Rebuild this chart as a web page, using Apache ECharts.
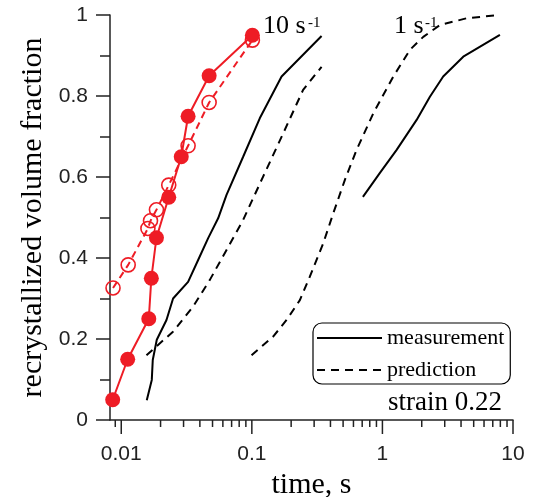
<!DOCTYPE html>
<html>
<head>
<meta charset="utf-8">
<script src="https://cdn.jsdelivr.net/npm/echarts@6/dist/echarts.min.js"></script>
<style>html,body{margin:0;padding:0;background:#fff}#c{width:534px;height:497px}</style>
</head>
<body>
<div id="c"></div>
<script>
// ---- data (time in s, recrystallized volume fraction) ----
const red10MeasT = [0.0086, 0.0112, 0.01625, 0.0170, 0.0186, 0.0231, 0.0288, 0.0325, 0.0471, 0.101];
const red10MeasY = [0.05, 0.15, 0.25, 0.35, 0.45, 0.55, 0.65, 0.75, 0.85, 0.95];
const red10PredT = [0.00865, 0.0113, 0.0160, 0.01675, 0.0186, 0.0231, 0.0325, 0.0471, 0.101];
const red10PredY = [0.326, 0.383, 0.473, 0.492, 0.519, 0.580, 0.677, 0.784, 0.938];
const meas10T = [0.01568, 0.01713, 0.01743, 0.01871, 0.0222, 0.02494, 0.0325, 0.0388, 0.0463, 0.0552, 0.0640, 0.0858, 0.115, 0.169, 0.342];
const meas10Y = [0.049, 0.099, 0.148, 0.198, 0.247, 0.300, 0.341, 0.395, 0.449, 0.498, 0.556, 0.650, 0.745, 0.848, 0.948];
const pred10T = [0.0156, 0.0249, 0.0355, 0.0477, 0.0640, 0.0858, 0.122, 0.174, 0.247, 0.342];
const pred10Y = [0.160, 0.218, 0.280, 0.346, 0.420, 0.494, 0.601, 0.708, 0.815, 0.872];
const pred1T = [0.0995, 0.1456, 0.1845, 0.2333, 0.278, 0.352, 0.420, 0.516, 0.634, 0.851, 1.211, 1.625, 2.055, 2.75, 4.41, 7.94];
const pred1Y = [0.160, 0.206, 0.247, 0.296, 0.354, 0.436, 0.510, 0.593, 0.667, 0.757, 0.848, 0.914, 0.946, 0.975, 0.992, 1.0];
const meas1T = [0.709, 0.957, 1.285, 1.828, 2.31, 2.92, 4.16, 7.94];
const meas1Y = [0.551, 0.610, 0.667, 0.741, 0.798, 0.848, 0.897, 0.951];
const xMajorTicks = [0.01, 0.1, 1, 10];
const xMinorTicks = [0.009, 0.02, 0.03, 0.04, 0.05, 0.06, 0.07, 0.08, 0.09,
  0.2, 0.3, 0.4, 0.5, 0.6, 0.7, 0.8, 0.9, 2, 3, 4, 5, 6, 7, 8, 9];
const xMin = 0.0082, xMax = 10;

const zip = (a, b) => a.map((v, i) => [v, b[i]]);
const RED = '#ee1c25';
const AX = '#222';
const SERIF = 'Liberation Serif';
const SANS = 'Liberation Sans';

function tickSeries(vals, len) {
  return {
    type: 'custom', silent: true, clip: false, z: 1,
    data: vals.map(v => [v, 0]),
    renderItem: function (params, api) {
      const p = api.coord([api.value(0), 0]);
      return {
        type: 'line',
        shape: { x1: p[0], y1: p[1], x2: p[0], y2: p[1] + len },
        style: { stroke: AX, lineWidth: 1.5 }
      };
    }
  };
}

const chart = echarts.init(document.getElementById('c'), null, { renderer: 'canvas' });
chart.setOption({
  animation: false,
  backgroundColor: '#fff',
  grid: { left: 110, right: 21, top: 15, bottom: 77, containLabel: false, outerBoundsMode: 'none' },
  xAxis: {
    type: 'log', min: xMin, max: xMax, logBase: 10,
    name: 'time, s', nameLocation: 'middle', nameGap: 47,
    nameTextStyle: { fontFamily: SERIF, fontSize: 30, color: '#000' },
    axisLine: { onZero: false, lineStyle: { color: AX, width: 1.5 } },
    axisTick: { show: false },
    splitLine: { show: false },
    axisLabel: {
      margin: 24, fontFamily: SANS, fontSize: 21, color: '#222',
      formatter: function (v) {
        const l = Math.log10(v);
        if (Math.abs(l - Math.round(l)) > 1e-6) return '';
        return String(+v.toPrecision(6));
      }
    }
  },
  yAxis: {
    type: 'value', min: 0, max: 1, interval: 0.2,
    name: 'recrystallized volume fraction', nameLocation: 'middle', nameGap: 56,
    nameTextStyle: { fontFamily: SERIF, fontSize: 30, color: '#000' },
    axisLine: { show: true, onZero: false, lineStyle: { color: AX, width: 1.5 } },
    axisTick: { show: true, length: 14, lineStyle: { color: AX, width: 1.5 } },
    minorTick: { show: true, splitNumber: 2, length: 10, lineStyle: { color: AX, width: 1.5 } },
    splitLine: { show: false },
    axisLabel: { margin: 22, fontFamily: SANS, fontSize: 21, color: '#222' }
  },
  legend: {
    data: ['measurement', 'prediction'],
    orient: 'vertical', left: 313, top: 323,
    selectedMode: false,
    itemWidth: 65, itemHeight: 14, itemGap: 10,
    padding: [4, 6, 3, 3],
    itemStyle: { color: 'rgba(0,0,0,0)', borderWidth: 0, opacity: 0 },
    borderColor: '#000', borderWidth: 1.2, borderRadius: 9,
    textStyle: { fontFamily: SERIF, fontSize: 22, color: '#000' }
  },
  graphic: [
    { type: 'text', x: 263, y: 26, style: { text: '10 s', fontFamily: SERIF, fontSize: 26, fill: '#000', align: 'left', verticalAlign: 'middle' } },
    { type: 'text', x: 308, y: 23, style: { text: '-1', fontFamily: SERIF, fontSize: 15, fill: '#000', align: 'left', verticalAlign: 'middle' } },
    { type: 'text', x: 394, y: 26, style: { text: '1 s', fontFamily: SERIF, fontSize: 26, fill: '#000', align: 'left', verticalAlign: 'middle' } },
    { type: 'text', x: 425, y: 23, style: { text: '-1', fontFamily: SERIF, fontSize: 15, fill: '#000', align: 'left', verticalAlign: 'middle' } },
    { type: 'text', x: 388, y: 403, style: { text: 'strain 0.22', fontFamily: SERIF, fontSize: 27, fill: '#000', align: 'left', verticalAlign: 'middle' } }
  ],
  series: [
    { name: 'measurement', type: 'line', symbol: 'none', data: zip(meas10T, meas10Y),
      lineStyle: { color: '#000', width: 2 }, itemStyle: { color: '#000' }, z: 2 },
    { name: 'prediction', type: 'line', symbol: 'none', data: zip(pred10T, pred10Y),
      lineStyle: { color: '#000', width: 2, type: [8, 6] }, itemStyle: { color: '#000' }, z: 2 },
    { name: 'measurement 1/s', type: 'line', symbol: 'none', data: zip(meas1T, meas1Y),
      lineStyle: { color: '#000', width: 2 }, z: 2 },
    { name: 'prediction 1/s', type: 'line', symbol: 'none', data: zip(pred1T, pred1Y),
      lineStyle: { color: '#000', width: 2, type: [8, 6] }, z: 2 },
    { name: 'red prediction', type: 'line', data: zip(red10PredT, red10PredY),
      symbol: 'circle', symbolSize: 14,
      itemStyle: { color: 'rgba(255,255,255,0)', borderColor: RED, borderWidth: 1.6 },
      lineStyle: { color: RED, width: 2, type: [7, 5] }, z: 3 },
    { name: 'red measurement', type: 'line', data: zip(red10MeasT, red10MeasY),
      symbol: 'circle', symbolSize: 15,
      itemStyle: { color: RED, borderWidth: 0 },
      lineStyle: { color: RED, width: 2 }, z: 4 },
    tickSeries(xMajorTicks, 14),
    tickSeries(xMinorTicks, 7)
  ]
});
</script>
</body>
</html>
